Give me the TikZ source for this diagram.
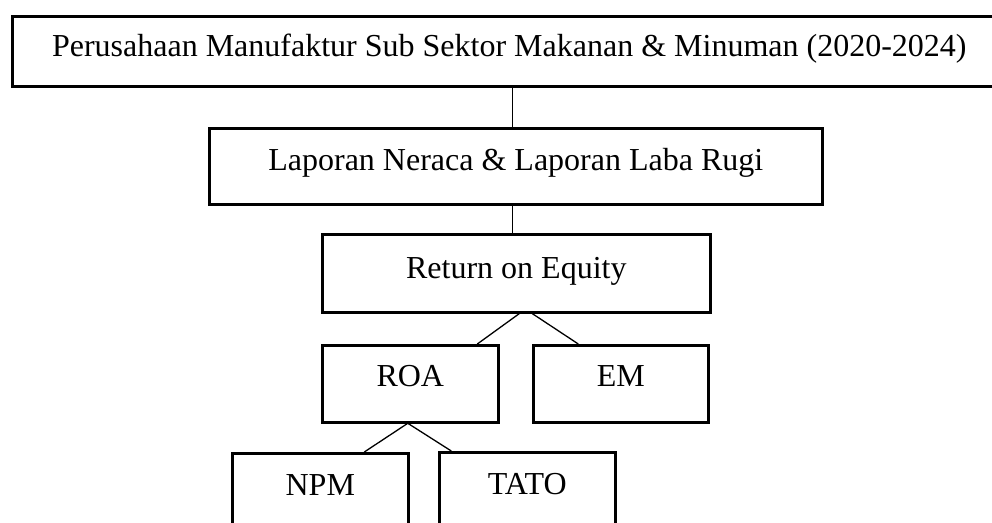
\documentclass[tikz,border=0pt]{standalone}
\usepackage{fontspec}
\setmainfont{Liberation Serif}
\usepackage{tikz}

\begin{document}
\begin{tikzpicture}[x=1pt, y=-1pt,
    box/.style = {draw, line width=2.6pt, inner sep=0pt, anchor=north west,
                  font=\fontsize{32}{38}\selectfont},
    link/.style = {line width=1.3pt}]
    \useasboundingbox (0,0) rectangle (992,522);

    \node[box,minimum width=994pt,text height=40pt,text depth=30pt] (1) at (11,15)
        {Perusahaan Manufaktur Sub Sektor Makanan \& Minuman (2020-2024)};
    \node[box,minimum width=613pt,text height=42pt,text depth=34pt] (2) at (208,127)
        {Laporan Neraca \& Laporan Laba Rugi};
    \node[box,minimum width=388pt,text height=44pt,text depth=34pt] (3) at (321,233)
        {Return on Equity};
    \node[box,minimum width=176pt,text height=41pt,text depth=36pt] (4) at (321,344) {ROA};
    \node[box,minimum width=175pt,text height=41pt,text depth=36pt] (5) at (532,344) {EM};
    \node[box,minimum width=176pt,text height=42pt,text depth=36pt] (6) at (231,452) {NPM};
    \node[box,minimum width=176pt,text height=42pt,text depth=36pt] (7) at (438,451) {TATO};

    \draw[link] ([xshift=3pt]1.south) -- ([xshift=-3.5pt]2.north);
    \draw[link] ([xshift=-3.5pt]2.south) -- ([xshift=-4pt]3.north);
    \draw[link] ([xshift=3pt]3.south) -- ([xshift=67pt]4.north);
    \draw[link] ([xshift=16pt]3.south) -- ([xshift=-42.5pt]5.north);
    \draw[link] ([xshift=-3pt]4.south) -- ([xshift=44pt]6.north);
    \draw[link] ([xshift=-2pt]4.south) -- ([xshift=-76pt]7.north);
  \end{tikzpicture}
\end{document}
